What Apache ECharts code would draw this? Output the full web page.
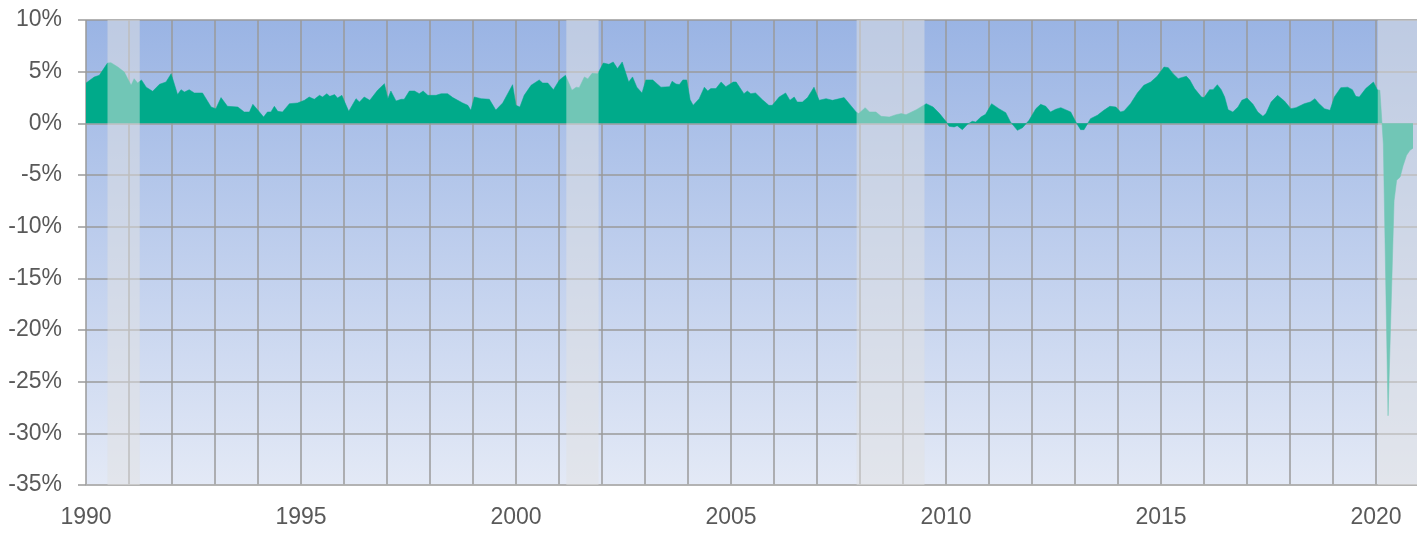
<!DOCTYPE html>
<html>
<head>
<meta charset="utf-8">
<script src="https://cdn.jsdelivr.net/npm/echarts@6/dist/echarts.min.js"></script>
<style>
html,body{margin:0;padding:0;background:#fff;}
#chart{width:1417px;height:533px;}
</style>
</head>
<body>
<div id="chart"></div>
<script>
// Decimal years of each reading
const years = [
1990.0,1990.19,1990.31,1990.5,1990.58,1990.74,1990.89,1990.97,1991.05,1991.12,1991.2,1991.29,1991.4,1991.55,1991.71,1991.86,1991.98,
1992.13,1992.21,1992.29,1992.4,1992.52,1992.71,1992.91,1993.02,1993.14,1993.29,1993.53,1993.68,1993.8,1993.88,1993.99,
1994.13,1994.22,1994.3,1994.38,1994.46,1994.57,1994.73,1994.92,
1995.08,1995.19,1995.31,1995.43,1995.5,1995.6,1995.67,1995.78,1995.85,1995.95,1996.11,1996.28,1996.36,1996.47,1996.6,1996.78,1996.94,
1997.02,1997.09,1997.21,1997.33,1997.4,1997.52,1997.64,1997.75,1997.84,1997.95,1998.14,1998.26,1998.41,1998.53,1998.76,1998.88,1998.95,
1999.03,1999.19,1999.38,1999.53,1999.69,1999.92,2000.0,
2000.09,2000.19,2000.35,2000.54,2000.62,2000.74,2000.87,2001.01,2001.15,2001.3,2001.4,2001.47,2001.59,2001.67,2001.77,2001.9,
2002.03,2002.16,2002.26,2002.36,2002.47,2002.62,2002.71,2002.81,2002.93,2003.02,2003.18,2003.37,2003.57,2003.63,2003.72,2003.8,2003.88,2003.97,
2004.05,2004.12,2004.26,2004.38,2004.46,2004.53,2004.65,2004.77,2004.88,
2005.05,2005.12,2005.3,2005.38,2005.46,2005.57,2005.73,2005.88,2005.96,2006.12,2006.27,2006.37,2006.47,2006.54,2006.66,2006.78,2006.93,
2007.05,2007.21,2007.36,2007.63,2007.75,2007.91,2007.97,2008.12,2008.22,2008.37,2008.49,2008.68,2008.84,2008.96,2009.07,2009.31,2009.54,2009.7,2009.85,
2010.01,2010.07,2010.19,2010.26,2010.38,2010.5,2010.61,2010.69,2010.81,2010.92,2011.06,2011.23,2011.39,2011.5,2011.66,2011.78,2011.93,
2012.09,2012.2,2012.32,2012.43,2012.55,2012.67,2012.78,2012.9,2013.02,2013.13,2013.21,2013.36,2013.52,2013.67,2013.81,2013.95,
2014.06,2014.14,2014.29,2014.45,2014.6,2014.76,2014.91,2015.07,
2015.17,2015.28,2015.4,2015.47,2015.59,2015.67,2015.78,2015.94,2016.0,2016.13,2016.21,2016.31,2016.4,2016.48,2016.56,2016.67,2016.79,2016.88,
2017.0,2017.14,2017.25,2017.37,2017.44,2017.56,2017.71,2017.87,2018.02,2018.14,2018.33,2018.47,2018.58,2018.66,2018.8,2018.93,
2019.03,2019.18,2019.34,2019.45,2019.53,2019.61,2019.76,2019.94,2020.03,2020.09,
2020.17,2020.28,2020.42,2020.48,2020.56,2020.63,2020.71,2020.79,2020.86
];
// Year-over-year change, percent
const values = [
3.9,4.48,4.65,5.84,5.87,5.45,4.97,4.32,3.68,4.32,3.9,4.2,3.5,3.1,3.78,4.0,4.8,
2.78,3.26,3.03,3.26,2.94,2.94,1.58,1.42,2.49,1.65,1.58,1.1,1.1,1.84,1.32,
0.61,1.1,1.1,1.65,1.16,1.1,1.9,1.97,
2.23,2.55,2.33,2.71,2.55,2.87,2.61,2.78,2.45,2.71,1.16,2.39,2.06,2.55,2.23,3.2,3.84,
2.39,3.13,2.16,2.33,2.33,3.13,3.13,2.87,3.13,2.71,2.71,2.87,2.87,2.49,1.97,1.74,1.26,
2.55,2.39,2.33,1.29,1.97,3.74,1.74,
1.58,2.71,3.68,4.2,3.9,3.9,3.26,4.2,4.65,3.2,3.5,3.45,4.49,4.3,4.84,4.8,
5.84,5.71,5.94,5.3,5.94,4.0,4.49,3.5,2.94,4.2,4.2,3.5,3.55,4.07,3.81,3.75,4.2,4.2,
2.29,1.74,2.39,3.5,3.13,3.36,3.36,4.0,3.55,
4.0,4.0,2.87,3.13,2.87,2.94,2.29,1.74,1.74,2.55,2.94,2.23,2.55,2.06,2.06,2.49,3.5,
2.23,2.39,2.23,2.49,1.9,1.1,0.94,1.52,1.1,1.1,0.68,0.61,0.84,0.94,0.84,1.32,1.9,1.58,0.94,
0.13,-0.29,-0.35,-0.23,-0.61,-0.1,0.2,0.13,0.61,0.87,1.9,1.42,1.03,0.13,-0.68,-0.42,0.29,
1.42,1.84,1.65,1.1,1.36,1.52,1.32,1.1,0.13,-0.61,-0.61,0.45,0.78,1.26,1.65,1.58,
1.1,1.2,1.9,2.94,3.68,4.0,4.55,5.45,
5.39,4.81,4.32,4.42,4.55,4.2,3.36,2.55,2.49,3.26,3.26,3.74,3.26,2.55,1.32,1.1,1.58,2.23,
2.45,1.84,1.1,0.68,0.94,2.06,2.71,2.16,1.42,1.52,1.9,2.06,2.39,1.97,1.42,1.26,
2.55,3.45,3.5,3.26,2.61,2.55,3.36,4.0,3.26,3.2,
-2.0,-28.3,-7.5,-5.5,-5.2,-4.1,-3.1,-2.6,-2.4
];
// Recession periods (start, end) in decimal years
const recessions = [
  [1990.5, 1991.25],
  [2001.17, 2001.92],
  [2007.92, 2009.5],
  [2020.04, 2020.953]
];
const yTicks = { min: -35, max: 10, step: 5 };
const xRange = { min: 1990, max: 2020.953, step: 1, labelEvery: 5 };

const chart = echarts.init(document.getElementById('chart'), null, { renderer: 'canvas' });
const fontFam = "'Liberation Sans', Arial, sans-serif";
const gridColor = '#9a9a9a';

chart.setOption({
  animation: false,
  grid: {
    left: 86, right: 0, top: 20, bottom: 48,
    show: true,
    borderWidth: 0,
    backgroundColor: new echarts.graphic.LinearGradient(0, 0, 0, 1, [
      { offset: 0, color: '#9ab4e4' },
      { offset: 1, color: '#e3e9f6' }
    ])
  },
  xAxis: {
    type: 'value',
    min: xRange.min, max: xRange.max, interval: xRange.step,
    axisLine: { show: true, onZero: false, lineStyle: { color: '#b4b4b4', width: 1.5 } },
    axisTick: { show: false },
    splitLine: { show: true, showMaxLine: false, lineStyle: { color: gridColor, width: 1.5 } },
    axisLabel: {
      margin: 21,
      fontFamily: fontFam, fontSize: 23, color: '#595959',
      showMaxLabel: false,
      formatter: v => (Math.abs(v % xRange.labelEvery) < 1e-9 ? String(v) : '')
    }
  },
  yAxis: {
    type: 'value',
    min: yTicks.min, max: yTicks.max, interval: yTicks.step,
    axisLine: { show: false },
    axisTick: { show: true, length: 8, lineStyle: { color: gridColor, width: 1.5 } },
    splitLine: { show: true, lineStyle: { color: gridColor, width: 1.5 } },
    axisLabel: {
      margin: 24,
      fontFamily: fontFam, fontSize: 23, color: '#595959',
      formatter: '{value}%'
    }
  },
  series: [{
    type: 'line',
    z: 2,
    data: years.map((y, i) => [y, values[i]]),
    showSymbol: false,
    symbol: 'none',
    lineStyle: { width: 0.5, color: '#00aa8a' },
    areaStyle: { color: '#00aa8a', opacity: 1 }
  }, {
    type: 'line',
    z: 10,
    data: [],
    silent: true,
    markArea: {
      silent: true,
      z: 10,
      itemStyle: { color: 'rgba(225,225,225,0.5)' },
      data: recessions.map(r => [{ xAxis: r[0] }, { xAxis: r[1] }])
    }
  }]
});
</script>
</body>
</html>
